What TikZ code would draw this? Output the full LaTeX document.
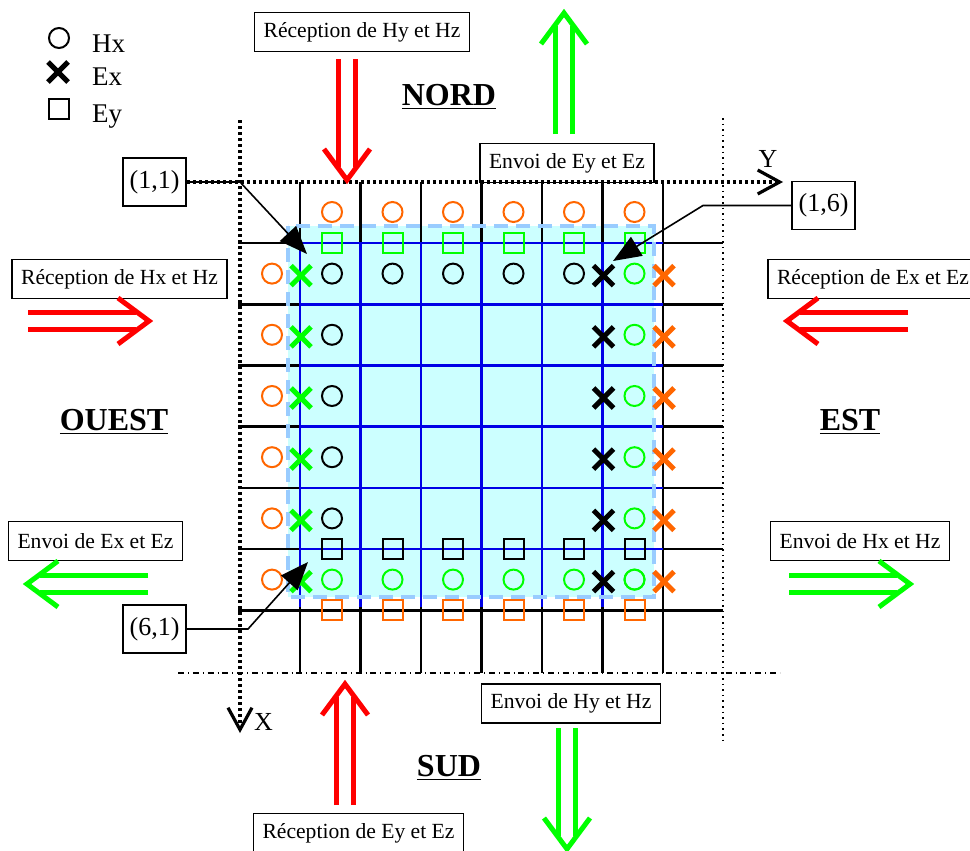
\documentclass[tikz,border=0pt]{standalone}
\usepackage{fontspec}
\setmainfont{Liberation Serif}
\usetikzlibrary{arrows.meta,shapes.misc}
\definecolor{orng}{RGB}{255,102,0}
\definecolor{grn}{RGB}{0,255,0}
\definecolor{cyanfill}{RGB}{204,255,255}
\definecolor{bordblue}{RGB}{153,204,255}
\definecolor{gridblue}{RGB}{0,0,230}

\begin{document}
\begin{tikzpicture}[x=0.5pt, y=-0.5pt,
  box/.style={draw, line width=0.8pt, font=\fontsize{10.8}{13}\selectfont, inner xsep=4.5pt, inner ysep=0pt, minimum height=19.5pt},
  idx/.style={draw, line width=0.8pt, font=\fontsize{13}{15}\selectfont, inner sep=0pt, minimum width=31.5pt, minimum height=24pt},
  side/.style={font=\fontsize{16}{18}\selectfont\bfseries, anchor=base},
  leg/.style={font=\fontsize{13.5}{16}\selectfont, anchor=base west},
  hx/.style={draw, circle, line width=1pt, minimum size=10pt, inner sep=0pt},
  ey/.style={draw, rectangle, line width=1pt, minimum size=10pt, inner sep=0pt},
  ex/.style={draw, cross out, line width=2.5pt, minimum size=7.5pt, inner sep=0pt},
  pointer/.style={line width=0.8pt, -{Triangle[length=14pt,width=11pt]}},
  axis/.style={line width=1.6pt, dash pattern=on 1.5pt off 1.5pt, -{Straight Barb[length=11pt,width=12pt]}},
  flux/.pic={
    \draw[line width=2.5pt] (0,-8.5) -- (108,-8.5) (0,8.5) -- (108,8.5);
    \draw[line width=2.5pt] (90,-23) -- (121,0) -- (90,23);
  }]
	\useasboundingbox (0,0) rectangle (970,851);
	% sous-domaine
	\fill[cyanfill] (288,226) rectangle (654,597);
	\foreach \j in {0,...,6} {\draw[line width=1.3pt] ({300+60.5*\j},182) -- ({300+60.5*\j},673);}
	\foreach \i in {0,...,6} {\draw[line width=1.3pt] (238,{243+61.2*\i}) -- (723,{243+61.2*\i});}
	\foreach \j in {0,...,5} {\draw[gridblue, line width=1.3pt] ({300+60.5*\j},243) -- ({300+60.5*\j},607);}
	\foreach \i in {0,...,5} {\draw[gridblue, line width=1.3pt] (300,{243+61.2*\i}) -- (663,{243+61.2*\i});}
	\draw[bordblue, line width=2pt, dash pattern=on 7pt off 4pt] (288,226) rectangle (654,597);
	% axes
	\node[idx] (p11) at (154.5,182) {(1,1)};
	\node[idx] (p16) at (823.5,205.5) {(1,6)};
	\node[idx] (p61) at (154.5,629) {(6,1)};
	\coordinate (yend) at (783,182);
	\coordinate (xtop) at (240,120);
	\coordinate (xend) at (240,733);
	\draw[axis] (p11.east) -- (yend);
	\draw[axis] (xtop) -- (xend);
	\node[font=\fontsize{13}{15}\selectfont] (ylab) at (768,159) {Y};
	\node[font=\fontsize{13}{15}\selectfont, anchor=west] (xlab) at (247,722) {X};
	\draw[dotted, line width=0.8pt] (723,118) -- (723,740);
	\draw[dash dot, line width=0.8pt] (178,673) -- (780,673);
	% Hx, Ex, Ey
	\foreach \j in {1,...,6} {
		\node[hx, orng] (hxN\j) at ({332+60.5*(\j-1)},212) {};
		\node[hx, orng] (hxW\j) at (272,{273.6+61.2*(\j-1)}) {};
		\node[hx, grn] (hxE\j) at (634.5,{273.6+61.2*(\j-1)}) {};
		\node[hx, grn] (hxS\j) at ({332+60.5*(\j-1)},579.6) {};
		\node[ex, grn] (exW\j) at (301,{275.6+61.2*(\j-1)}) {};
		\node[ex] (exE\j) at (603.5,{275.6+61.2*(\j-1)}) {};
		\node[ex, orng] (exO\j) at (664,{275.6+61.2*(\j-1)}) {};
		\node[ey, grn] (eyN\j) at ({332+60.5*(\j-1)},243) {};
		\node[ey] (eyS\j) at ({332+60.5*(\j-1)},549) {};
		\node[ey, orng] (eyO\j) at ({332+60.5*(\j-1)},610.2) {};
	}
	\foreach \j in {1,...,5} {\node[hx] (hxR\j) at ({332+60.5*(\j-1)},273.6) {};}
	\foreach \i in {2,...,5} {\node[hx] (hxC\i) at (332,{273.6+61.2*(\i-1)}) {};}
	% reperes
	\coordinate (t11) at (307,254);
	\coordinate (t16) at (613,261);
	\coordinate (t61) at (308,562);
	\draw[pointer] (p11.east) -- (240,182) -- (t11);
	\draw[pointer] (p16.west) -- (703,205.5) -- (t16);
	\draw[pointer] (p61.east) -- (248,629) -- (t61);
	% echanges
	\node[box] (recN) at (362,32) {Réception de Hy et Hz};
	\node[box] (envN) at (567,163) {Envoi de Ey et Ez};
	\node[box] (recW) at (119.5,279) {Réception de Hx et Hz};
	\node[box] (recE) at (873,279) {Réception de Ex et Ez};
	\node[box] (envW) at (95.5,541) {Envoi de Ex et Ez};
	\node[box] (envE) at (860,541) {Envoi de Hx et Hz};
	\node[box] (envS) at (571,703.5) {Envoi de Hy et Hz};
	\node[box] (recS) at (358.5,833) {Réception de Ey et Ez};
	\foreach \px/\py/\rot/\col in {347/59/-90/red, 564/134/90/grn, 28/321/0/red, 148/584/180/grn, 908/321/180/red, 789/584/0/grn, 345/805/90/red, 567/728/-90/grn}
		{\pic[color=\col, rotate=\rot] at (\px,\py) {flux};}
	\node[side] (nord) at (449,105) {\underline{NORD}};
	\node[side] (ouest) at (114,430) {\underline{OUEST}};
	\node[side] (est) at (850,430) {\underline{EST}};
	\node[side] (sud) at (449,776) {\underline{SUD}};
	% legende
	\node[hx] (legHx) at (59,38) {};
	\node[ex] (legEx) at (58,72) {};
	\node[ey] (legEy) at (59,109) {};
	\node[leg] (txtHx) at (85,52) {Hx};
	\node[leg] (txtEx) at (85,85) {Ex};
	\node[leg] (txtEy) at (85,122) {Ey};
\end{tikzpicture}
\end{document}
